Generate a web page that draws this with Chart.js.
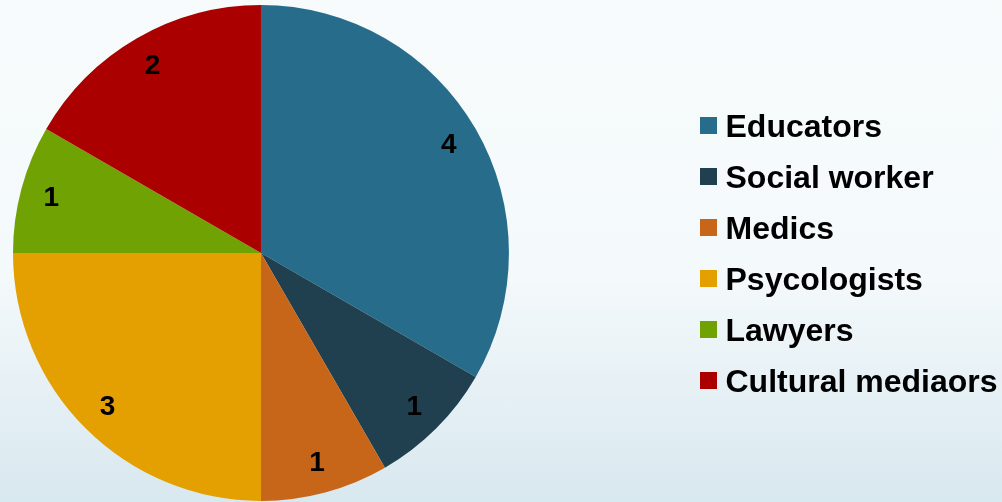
<!DOCTYPE html>
<html>
<head>
<meta charset="utf-8">
<script src="https://cdn.jsdelivr.net/npm/chart.js@4"></script>
<style>
  html, body { margin: 0; padding: 0; }
  body {
    width: 1002px;
    height: 502px;
    overflow: hidden;
    background: linear-gradient(to bottom, #f7fbfc 0%, #f4f9fb 55%, #d8e8ef 100%);
  }
</style>
</head>
<body>
<canvas id="pieChart" width="1002" height="502"></canvas>
<script>
// Data
const categories = ["Educators", "Social worker", "Medics", "Psycologists", "Lawyers", "Cultural mediaors"];
const counts = [4, 1, 1, 3, 1, 2];
const sliceColors = ["#276d8b", "#20404f", "#c76518", "#e3a000", "#70a204", "#aa0000"];

// square swatch used as legend point style (sits a bit above the text middle)
function swatch(color) {
  const c = document.createElement("canvas");
  c.width = 17;
  c.height = 23;
  const g = c.getContext("2d");
  g.fillStyle = color;
  g.fillRect(0, 0, 17, 17);
  return c;
}

// numbers inside the slices
const sliceLabels = {
  id: "sliceLabels",
  afterDatasetsDraw(chart) {
    const ctx = chart.ctx;
    const meta = chart.getDatasetMeta(0);
    ctx.save();
    ctx.font = 'bold 28px "Liberation Sans", Arial, sans-serif';
    ctx.fillStyle = "#000";
    ctx.textAlign = "center";
    ctx.textBaseline = "middle";
    meta.data.forEach((arc, i) => {
      const p = arc.getProps(["x", "y", "startAngle", "endAngle", "outerRadius"], true);
      const mid = (p.startAngle + p.endAngle) / 2;
      const r = p.outerRadius * 0.875;
      ctx.fillText(counts[i], p.x + Math.cos(mid) * r, p.y + Math.sin(mid) * r + 1);
    });
    ctx.restore();
  },
};

// push the legend further right, away from the pie
const legendPlace = {
  id: "legendPlace",
  afterLayout(chart) {
    const lg = chart.legend;
    lg.left = 688.5;
    lg.right = chart.width;
    lg.width = lg.right - lg.left;
    lg.top += 3;
    lg.bottom += 3;
  },
};

function renderPie() {
  const ctx = document.getElementById("pieChart").getContext("2d");
  new Chart(ctx, {
    type: "pie",
    data: {
      labels: categories,
      datasets: [
        {
          data: counts,
          backgroundColor: sliceColors,
          borderWidth: 0,
        },
      ],
    },
    options: {
      responsive: false,
      animation: false,
      layout: {
        padding: { left: 13, top: 5, bottom: 1, right: 174 },
      },
      plugins: {
        tooltip: { enabled: false },
        legend: {
          position: "right",
          labels: {
            usePointStyle: true,
            pointStyleWidth: 2,
            padding: 19,
            color: "#000",
            font: { family: '"Liberation Sans", Arial, sans-serif', size: 32, weight: "bold" },
            generateLabels: () =>
              categories.map((name, i) => ({
                text: name,
                pointStyle: swatch(sliceColors[i]),
                fillStyle: sliceColors[i],
                strokeStyle: sliceColors[i],
                lineWidth: 0,
                hidden: false,
                index: i,
                fontColor: "#000",
              })),
          },
        },
      },
    },
    plugins: [sliceLabels, legendPlace],
  });
}

document.addEventListener("DOMContentLoaded", renderPie);
</script>
</body>
</html>
